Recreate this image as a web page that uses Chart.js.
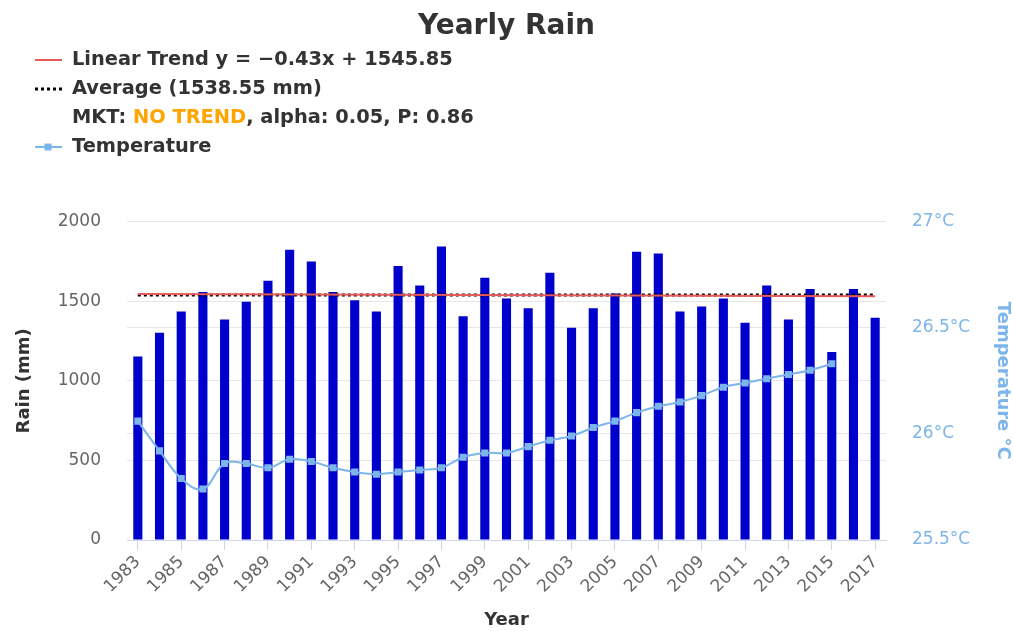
<!DOCTYPE html>
<html>
<head>
<meta charset="utf-8">
<script src="https://cdn.jsdelivr.net/npm/chart.js@4.4.1/dist/chart.umd.min.js"></script>
<style>
html,body{margin:0;padding:0;background:#fff;}
#wrap{width:1013px;height:631px;position:relative;}
</style>
</head>
<body>
<div id="wrap"><canvas id="c" width="1013" height="631"></canvas></div>
<script>
const years = [1983,1984,1985,1986,1987,1988,1989,1990,1991,1992,1993,1994,1995,1996,1997,1998,1999,2000,2001,2002,2003,2004,2005,2006,2007,2008,2009,2010,2011,2012,2013,2014,2015,2016,2017];
const rain = [1152,1302,1435,1558,1385,1496,1629,1823,1750,1558,1506,1435,1721,1598,1844,1406,1648,1517,1456,1679,1333,1456,1548,1810,1800,1435,1467,1517,1365,1598,1385,1577,1181,1577,1396];
const temperature = [26.06,25.92,25.79,25.74,25.86,25.86,25.84,25.88,25.87,25.84,25.82,25.81,25.82,25.83,25.84,25.89,25.91,25.91,25.94,25.97,25.99,26.03,26.06,26.10,26.13,26.15,26.18,26.22,26.24,26.26,26.28,26.30,26.33,null,null];
const trendEnds = [1545.85, 1531.23];
const averageValue = [1538.55];
const tempTicks = [25.5, 26, 26.5, 27];

const n = years.length;
const trendData = years.map((y,i)=> i===0 ? trendEnds[0] : (i===n-1 ? trendEnds[1] : null));
const avgData = years.map((y,i)=> (i===0 || i===n-1) ? averageValue[0] : null);

const FONT = "'DejaVu Sans', sans-serif";

const legendPlugin = {
  id: 'customLegend',
  afterDraw(chart) {
    const ctx = chart.ctx;
    ctx.save();
    ctx.font = "bold 19.4px " + FONT;
    ctx.textBaseline = 'middle';
    ctx.textAlign = 'left';
    const sx = 35, ex = 62, tx = 72;
    const rows = [60, 89, 118, 147];
    ctx.strokeStyle = '#e55b5b'; ctx.lineWidth = 2; ctx.setLineDash([]);
    ctx.beginPath(); ctx.moveTo(sx, rows[0]); ctx.lineTo(ex, rows[0]); ctx.stroke();
    ctx.fillStyle = '#333333';
    ctx.fillText('Linear Trend y = \u22120.43x + 1545.85', tx, rows[0]);
    ctx.strokeStyle = '#000000'; ctx.lineWidth = 3; ctx.setLineDash([3,3]);
    ctx.beginPath(); ctx.moveTo(sx, rows[1]); ctx.lineTo(ex, rows[1]); ctx.stroke();
    ctx.setLineDash([]);
    ctx.fillText('Average (1538.55 mm)', tx, rows[1]);
    let x = tx;
    const parts = [['MKT: ', '#333333'], ['NO TREND', '#ffa500'], [', alpha: 0.05, P: 0.86', '#333333']];
    for (const [t, c] of parts) {
      ctx.fillStyle = c;
      ctx.fillText(t, x, rows[2]);
      x += ctx.measureText(t).width;
    }
    ctx.strokeStyle = '#7cb5ec'; ctx.lineWidth = 2;
    ctx.beginPath(); ctx.moveTo(sx, rows[3]); ctx.lineTo(ex, rows[3]); ctx.stroke();
    ctx.fillStyle = '#7cb5ec';
    ctx.fillRect(44.5, rows[3]-3.5, 7, 7);
    ctx.fillStyle = '#333333';
    ctx.fillText('Temperature', tx, rows[3]);
    ctx.restore();
  }
};

new Chart(document.getElementById('c'), {
  data: {
    labels: years,
    datasets: [
      {
        type: 'line', label: 'Linear Trend', data: trendData, yAxisID: 'y',
        borderColor: '#e55b5b', borderWidth: 2, pointRadius: 0, spanGaps: true, order: 1
      },
      {
        type: 'line', label: 'Average', data: avgData, yAxisID: 'y',
        borderColor: '#000000', borderWidth: 3, borderDash: [3,3], pointRadius: 0, spanGaps: true, order: 2
      },
      {
        type: 'line', label: 'Temperature', data: temperature, yAxisID: 'y2',
        borderColor: '#7cb5ec', backgroundColor: '#7cb5ec', borderWidth: 2,
        pointStyle: 'rect', pointRadius: 5, pointBorderWidth: 0, tension: 0.4, order: 0
      },
      {
        type: 'bar', label: 'Rain', data: rain, yAxisID: 'y',
        backgroundColor: '#0000cc', barPercentage: 0.42, categoryPercentage: 1.0, order: 5
      }
    ]
  },
  options: {
    responsive: false,
    animation: false,
    layout: { padding: { left: 0, right: 0, top: 0, bottom: 0 } },
    plugins: {
      legend: { display: false },
      tooltip: { enabled: false },
      title: {
        display: true, text: 'Yearly Rain', color: '#333333',
        font: { family: FONT, size: 28, weight: 'bold' },
        padding: { top: 10, bottom: 178 }
      }
    },
    scales: {
      x: {
        offset: true,
        grid: {
          offset: false, drawOnChartArea: false, drawTicks: true, tickLength: 10,
          color: (c) => (c.index % 2 === 0 ? '#ccd6eb' : 'rgba(0,0,0,0)')
        },
        border: { display: true, color: '#ccd6eb', width: 1 },
        ticks: {
          autoSkip: false, maxRotation: 45, minRotation: 45, color: '#666666',
          font: { family: FONT, size: 17 }, padding: 2,
          callback: function(v, i) { return i % 2 === 0 ? String(years[i]) : ''; }
        },
        title: { display: true, text: 'Year', color: '#333333', font: { family: FONT, size: 18, weight: 'bold' }, padding: { top: 0, bottom: 0 } },
        afterFit: (s) => { s.height = 91; }
      },
      y: {
        position: 'left', min: 0, max: 2000,
        ticks: { stepSize: 500, color: '#666666', font: { family: FONT, size: 17 }, padding: 26, callback: (v) => String(v) },
        grid: { color: '#e6e6e6', drawTicks: false },
        border: { display: false },
        title: { display: true, text: 'Rain (mm)', color: '#333333', font: { family: FONT, size: 18, weight: 'bold' }, padding: { top: 14, bottom: 0 } },
        afterFit: (s) => { s.width = 127; }
      },
      y2: {
        position: 'right', min: 25.5, max: 27,
        afterBuildTicks: (s) => { s.ticks = tempTicks.map(v => ({ value: v })); },
        ticks: { color: '#7cb5ec', font: { family: FONT, size: 17 }, padding: 26, callback: (v) => v + '°C' },
        grid: { color: '#e6e6e6', drawTicks: false },
        border: { display: false },
        title: { display: true, text: 'Temperature °C', color: '#7cb5ec', font: { family: FONT, size: 18, weight: 'bold' }, padding: { top: 0, bottom: 6 } },
        afterFit: (s) => { s.width = 127; }
      }
    }
  },
  plugins: [legendPlugin]
});
</script>
</body>
</html>
